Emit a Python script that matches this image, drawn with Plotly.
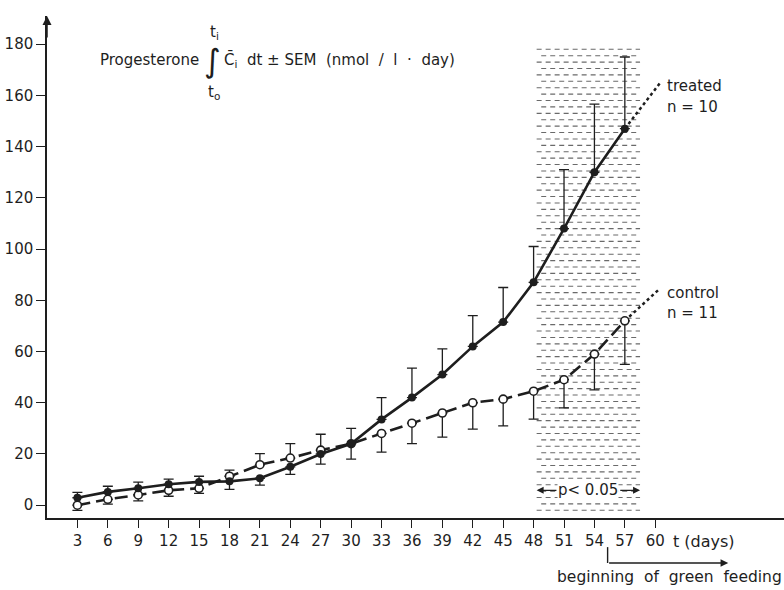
import plotly.graph_objects as go

# Sampling days
days = [3, 6, 9, 12, 15, 18, 21, 24, 27, 30, 33, 36, 39, 42, 45, 48, 51, 54, 57]

# Integrated progesterone (nmol/l·day)
treated_mean = [2.9, 5.2, 6.6, 8.2, 9.1, 9.3, 10.5, 15.0, 20.0, 24.0, 33.5, 42.0,
                51.0, 62.0, 71.5, 87.0, 108.0, 130.0, 147.0]
treated_sem = [2.1, 2.2, 2.4, 2.0, 2.2, 3.1, 2.7, 3.0, 4.0, 6.0, 8.5, 11.5,
               10.0, 12.0, 13.5, 14.0, 23.0, 26.6, 28.0]
control_mean = [0.0, 2.3, 4.0, 5.8, 6.6, 11.3, 15.8, 18.4, 21.5, 24.0, 28.0, 32.0,
                36.0, 40.0, 41.4, 44.5, 49.0, 59.0, 72.0]
control_sem = [2.0, 1.9, 2.3, 2.3, 2.0, 2.4, 4.3, 5.6, 6.2, 6.0, 7.3, 8.0,
               9.4, 10.3, 10.4, 10.9, 11.0, 14.0, 17.0]

# Projected continuation beyond the last sample
treated_ext_days = [57, 60.5]
treated_ext = [147.0, 165.0]
control_ext_days = [57, 60.3]
control_ext = [72.0, 84.0]

x_ticks = [3, 6, 9, 12, 15, 18, 21, 24, 27, 30, 33, 36, 39, 42, 45, 48, 51, 54, 57, 60]
y_ticks = [0, 20, 40, 60, 80, 100, 120, 140, 160, 180]

# Period of significant difference (p < 0.05)
sig_start, sig_end = 48.3, 58.5
sig_bottom, sig_top = -2.0, 178.0

# Green feeding starts here
green_start, green_end = 55.3, 67.2

X_RANGE = [0, 72.7]
PLOT_W = 784 - 47
PX_PER_DAY = PLOT_W / (X_RANGE[1] - X_RANGE[0])

INK = "#1e1e1e"
FONT = "DejaVu Sans"
NB = "\u00a0"

# SEM bar drawn away from the other group's curve
t_up = [s if t > c else 0 for t, c, s in zip(treated_mean, control_mean, treated_sem)]
t_dn = [0 if t > c else s for t, c, s in zip(treated_mean, control_mean, treated_sem)]
c_up = [0 if t > c else s for t, c, s in zip(treated_mean, control_mean, control_sem)]
c_dn = [s if t > c else 0 for t, c, s in zip(treated_mean, control_mean, control_sem)]

fig = go.Figure()

# Hatched band: staggered rows of short dashes
hx, hy = [], []
row = 0
yv = sig_bottom
while yv <= sig_top:
    shift = 0.45 if row % 2 else 0.0
    hx += [sig_start + shift, sig_end, None]
    hy += [yv, yv, None]
    yv += 2.5
    row += 1
fig.add_trace(go.Scatter(x=hx, y=hy, mode="lines", hoverinfo="skip",
                         line=dict(color="#6a6a6a", width=1.1, dash="5px,4px"),
                         showlegend=False))

# Dotted projections
fig.add_trace(go.Scatter(x=treated_ext_days, y=treated_ext, mode="lines",
                         line=dict(color=INK, width=2.5, dash="dot"), showlegend=False))
fig.add_trace(go.Scatter(x=control_ext_days, y=control_ext, mode="lines",
                         line=dict(color=INK, width=2.5, dash="dot"), showlegend=False))

# Control group (open circles, dashed)
fig.add_trace(go.Scatter(
    x=days, y=control_mean, mode="lines+markers", name="control",
    line=dict(color=INK, width=2.6, dash="13px,6px"),
    marker=dict(symbol="circle", size=8, color="white", line=dict(color=INK, width=1.6)),
    error_y=dict(type="data", symmetric=False, array=c_up, arrayminus=c_dn,
                 color=INK, thickness=1.3, width=5),
    showlegend=False))

# Treated group (filled circles, solid)
fig.add_trace(go.Scatter(
    x=days, y=treated_mean, mode="lines+markers", name="treated",
    line=dict(color=INK, width=2.6),
    marker=dict(symbol="circle", size=8, color=INK),
    error_y=dict(type="data", symmetric=False, array=t_up, arrayminus=t_dn,
                 color=INK, thickness=1.3, width=5),
    showlegend=False))

ann = []
txt = dict(family=FONT, size=15, color=INK)

# Axis title in formula form
ann.append(dict(x=5.0, y=173.8, xref="x", yref="y", text="Progesterone",
                showarrow=False, xanchor="left", yanchor="middle", font=txt))
ann.append(dict(x=16.3, y=173.3, xref="x", yref="y", text="∫",
                showarrow=False, xanchor="center", yanchor="middle",
                font=dict(family="DejaVu Sans", size=32, color=INK)))
ann.append(dict(x=16.5, y=184.5, xref="x", yref="y", text="t<sub>i</sub>",
                showarrow=False, xanchor="center", yanchor="middle", font=txt))
ann.append(dict(x=16.5, y=161.0, xref="x", yref="y", text="t<sub>o</sub>",
                showarrow=False, xanchor="center", yanchor="middle", font=txt))
ann.append(dict(x=17.3, y=173.8, xref="x", yref="y",
                text="C̄<sub>i</sub>" + NB * 2 + "dt" + NB + "±" + NB + "SEM" + NB * 2
                     + "(nmol" + NB * 2 + "/" + NB * 2 + "l" + NB * 2 + "·" + NB * 2
                     + "day)",
                showarrow=False, xanchor="left", yanchor="middle", font=txt))

# Group labels
ann.append(dict(x=61.0, y=163.5, xref="x", yref="y", text="treated",
                showarrow=False, xanchor="left", yanchor="middle", font=txt))
ann.append(dict(x=61.0, y=155.5, xref="x", yref="y", text="n = 10",
                showarrow=False, xanchor="left", yanchor="middle", font=txt))
ann.append(dict(x=61.0, y=83.0, xref="x", yref="y", text="control",
                showarrow=False, xanchor="left", yanchor="middle", font=txt))
ann.append(dict(x=61.0, y=75.0, xref="x", yref="y", text="n = 11",
                showarrow=False, xanchor="left", yanchor="middle", font=txt))

# Significance marker
sig_mid = (sig_start + sig_end) / 2
ann.append(dict(x=sig_mid, y=5.8, xref="x", yref="y", text="p< 0.05",
                showarrow=False, xanchor="center", yanchor="middle",
                bgcolor="white", borderpad=0, font=txt))
ann.append(dict(x=sig_start, y=5.8, xref="x", yref="y", ax=sig_mid - 3.0, ay=5.8,
                axref="x", ayref="y", text="", showarrow=True, arrowhead=2,
                arrowsize=1, arrowwidth=1.4, arrowcolor=INK))
ann.append(dict(x=sig_end, y=5.8, xref="x", yref="y", ax=sig_mid + 3.0, ay=5.8,
                axref="x", ayref="y", text="", showarrow=True, arrowhead=2,
                arrowsize=1, arrowwidth=1.4, arrowcolor=INK))

# Axis arrow on the y axis
ann.append(dict(x=0, y=191, xref="x", yref="y", ax=0, ay=182, axref="x", ayref="y",
                text="", showarrow=True, arrowhead=2, arrowsize=1.2,
                arrowwidth=1.5, arrowcolor=INK))

# x axis label
ann.append(dict(x=61.6, y=-0.046, xref="x", yref="paper", text="t (days)",
                showarrow=False, xanchor="left", yanchor="middle",
                font=dict(family=FONT, size=16, color=INK)))

# Green feeding arrow and label
ann.append(dict(x=green_end, y=-0.0896, xref="x", yref="paper",
                ax=-(green_end - green_start) * PX_PER_DAY, ay=0,
                axref="pixel", ayref="pixel",
                text="", showarrow=True, arrowhead=2, arrowsize=1.1,
                arrowwidth=1.4, arrowcolor=INK))
ann.append(dict(x=61.4, y=-0.1175, xref="x", yref="paper",
                text="beginning" + NB + " of" + NB + " green" + NB + " feeding",
                showarrow=False, xanchor="center", yanchor="middle",
                font=dict(family=FONT, size=15.5, color=INK)))

shapes = [dict(type="line", xref="x", yref="paper", x0=green_start, x1=green_start,
               y0=-0.058, y1=-0.0896, line=dict(color=INK, width=1.4))]

fig.update_layout(
    width=784, height=590,
    margin=dict(l=47, r=0, t=16, b=72, pad=0),
    paper_bgcolor="white", plot_bgcolor="white",
    font=dict(family=FONT, size=15, color=INK),
    annotations=ann, shapes=shapes,
    xaxis=dict(range=X_RANGE, tickmode="array", tickvals=x_ticks,
               ticktext=[str(v) for v in x_ticks], showgrid=False, zeroline=False,
               showline=True, linecolor=INK, linewidth=1.5,
               ticks="outside", ticklen=8, tickwidth=1.3, tickcolor=INK,
               tickfont=dict(family=FONT, size=15, color=INK), fixedrange=True),
    yaxis=dict(range=[-5, 191], tickmode="array", tickvals=y_ticks,
               ticktext=[str(v) for v in y_ticks], showgrid=False, zeroline=False,
               showline=True, linecolor=INK, linewidth=1.5,
               ticks="outside", ticklen=9, tickwidth=1.3, tickcolor=INK,
               tickfont=dict(family=FONT, size=15, color=INK), fixedrange=True),
)

fig.write_html("out.html")
